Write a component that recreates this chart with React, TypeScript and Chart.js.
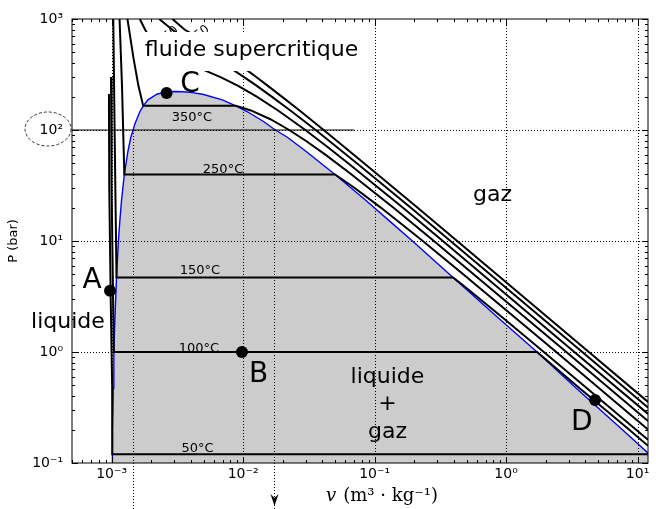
import React, { useEffect, useRef } from "react";
import { Chart, registerables } from "chart.js";

Chart.register(...registerables);

type Pt = [number, number];

// ---- axes ----
const xTickValues = [1e-3, 1e-2, 1e-1, 1, 10];
const xTickLabels = ["10⁻³", "10⁻²", "10⁻¹", "10⁰", "10¹"];
const yTickValues = [0.1, 1, 10, 100, 1000];
const yTickLabels = ["10⁻¹", "10⁰", "10¹", "10²", "10³"];

// ---- saturation dome (v in m3/kg, P in bar) ----
const domeCurve: Pt[] = [
  [1.010e-3, 0.1], [1.012e-3, 0.12], [1.017e-3, 0.2], [1.029e-3, 0.47], [1.04e-3, 1.0],
  [1.06e-3, 2.0], [1.09e-3, 4.7], [1.127e-3, 10], [1.157e-3, 15.5], [1.19e-3, 23.2],
  [1.25e-3, 39.7], [1.33e-3, 64], [1.40e-3, 86], [1.46e-3, 100], [1.50e-3, 113],
  [1.64e-3, 146], [1.74e-3, 165], [1.89e-3, 187], [2.21e-3, 210], [2.45e-3, 217],
  [2.7e-3, 221], [3.05e-3, 222], [3.5e-3, 221], [4.1e-3, 217], [4.93e-3, 210],
  [6.95e-3, 187], [8.81e-3, 165], [1.08e-2, 146], [1.42e-2, 120], [1.76e-2, 100],
  [2.17e-2, 86], [3.02e-2, 64], [5.0e-2, 39.7], [8.6e-2, 23.2], [0.127, 15.5],
  [0.194, 10], [0.395, 4.7], [0.891, 1.985], [1.72, 1.0], [3.4, 0.474],
  [7.67, 0.1995], [12.3, 0.12], [14.67, 0.1],
];

// ---- isotherms ----
const iso50: Pt[] = [
  [0.955e-3, 211], [0.96e-3, 30], [0.985e-3, 3], [1.01e-3, 0.5], [1.012e-3, 0.12], [12.3, 0.12],
];
const iso100: Pt[] = [
  [0.99e-3, 300], [1.0e-3, 30], [1.04e-3, 1.0], [1.72, 1.0], [3.42, 0.5], [8.6, 0.2], [12, 0.143],
];
const iso150: Pt[] = [
  [1.03e-3, 1000], [1.06e-3, 60], [1.09e-3, 4.7], [0.395, 4.7], [0.4708, 4], [0.9596, 2],
  [1.936, 1], [3.889, 0.5], [12, 0.162],
];
const iso250: Pt[] = [
  [1.15e-3, 1000], [1.2e-3, 250], [1.25e-3, 39.7], [0.05, 39.7], [0.07058, 30], [0.1114, 20],
  [0.2327, 10], [0.4744, 5], [2.406, 1], [12, 0.2],
];
const iso350: Pt[] = [
  [1.32e-3, 1000], [1.47e-3, 440], [1.6e-3, 250], [1.74e-3, 165], [8.81e-3, 165],
  [1.147e-2, 150], [1.613e-2, 125], [2.242e-2, 100], [2.995e-2, 80], [4.223e-2, 60],
  [6.645e-2, 40], [0.1386, 20], [0.2825, 10], [2.872, 1], [12, 0.239],
];
const iso450: Pt[] = [
  [1.64e-3, 1000], [1.8e-3, 800], [2.085e-3, 600], [2.486e-3, 500], [3.692e-3, 400],
  [4.957e-3, 350], [6.737e-3, 300], [9.176e-3, 250], [1.27e-2, 200], [1.845e-2, 150],
  [2.975e-2, 100], [4.416e-2, 70], [6.33e-2, 50], [0.1635, 20], [0.3304, 10], [3.304, 1], [12, 0.277],
];
const iso550: Pt[] = [
  [2.3e-3, 1000], [2.9e-3, 800], [3.955e-3, 600], [5.118e-3, 500], [6.985e-3, 400],
  [8.348e-3, 350], [1.0175e-2, 300], [1.2724e-2, 250], [1.65e-2, 200], [2.29e-2, 150],
  [3.564e-2, 100], [7.37e-2, 50], [0.1877, 20], [0.3777, 10], [3.796, 1], [12, 0.316],
];
const iso650: Pt[] = [
  [2.9e-3, 1000], [3.6e-3, 800], [5.591e-3, 600], [6.957e-3, 500], [9.053e-3, 400],
  [1.0565e-2, 350], [1.259e-2, 300], [1.5433e-2, 250], [1.97e-2, 200], [2.69e-2, 150],
  [4.1e-2, 100], [8.36e-2, 50], [0.2115, 20], [0.4245, 10], [4.26, 1], [12, 0.355],
];

// P = 100 bar reference line and saturation volumes at 100 bar
const refLine: Pt[] = [[5e-4, 100], [0.07, 100]];
const refP = 100;
const satV100 = [1.46e-3, 0.0172];

// ---- state points ----
const pointNames = ["A", "B", "C", "D"];
const pointV = [9.73e-4, 9.8e-3, 2.62e-3, 4.75];
const pointP = [3.57, 1.0, 215, 0.37];
const letterV = [7.1e-4, 0.0131, 3.947e-3, 3.758];
const letterP = [3.773, 0.5366, 219.9, 0.1983];

// ---- isotherm labels ----
const tempLabels = ["350°C", "250°C", "150°C", "100°C", "50°C"];
const tempLabelV = [4.088e-3, 7.036e-3, 4.703e-3, 4.62e-3, 4.5e-3];
const tempLabelP = [121.3, 40.73, 5.043, 0.9938, 0.1264];
const topLabels = ["550", "650"];
const topLabelV = [2.685e-3, 4.62e-3];
const topLabelP = [703, 718];

// ---- region labels ----
const regionTexts = ["gaz", "liquide", "liquide", "+", "gaz"];
const regionV = [0.788, 4.66e-4, 0.1253, 0.1253, 0.1253];
const regionP = [22.7, 1.645, 0.5224, 0.2972, 0.169];
const superText = "fluide supercritique";
const superV = 0.01159;
const superP = 464.2;

const SANS = "'DejaVu Sans', sans-serif";

const overlayPlugin = {
  id: "overlay",
  afterDatasetsDraw(chart: any) {
    const { ctx, chartArea: ca } = chart;
    const xs = chart.scales.x;
    const ys = chart.scales.y;
    const X = (v: number) => xs.getPixelForValue(v);
    const Y = (p: number) => ys.getPixelForValue(p);

    ctx.save();
    // ---- clipped drawing: grid + top labels
    ctx.save();
    ctx.beginPath();
    ctx.rect(ca.left, ca.top, ca.right - ca.left, ca.bottom - ca.top);
    ctx.clip();
    ctx.strokeStyle = "#000";
    ctx.lineWidth = 1;
    ctx.setLineDash([1, 2]);
    xTickValues.forEach((v) => {
      const x = Math.round(X(v)) + 0.5;
      if (x > ca.left + 1 && x < ca.right - 1) {
        ctx.beginPath();
        ctx.moveTo(x, ca.top);
        ctx.lineTo(x, ca.bottom);
        ctx.stroke();
      }
    });
    yTickValues.forEach((p) => {
      const y = Math.round(Y(p)) + 0.5;
      if (y > ca.top + 1 && y < ca.bottom - 1) {
        ctx.beginPath();
        ctx.moveTo(ca.left, y);
        ctx.lineTo(ca.right, y);
        ctx.stroke();
      }
    });
    ctx.setLineDash([]);
    ctx.fillStyle = "#000";
    ctx.font = `12px ${SANS}`;
    ctx.textAlign = "center";
    ctx.textBaseline = "middle";
    topLabels.forEach((t, i) => {
      ctx.save();
      ctx.translate(X(topLabelV[i]), Y(topLabelP[i]));
      ctx.rotate((-40 * Math.PI) / 180);
      ctx.fillText(t, 0, 0);
      ctx.restore();
    });
    ctx.restore();

    // ---- supercritical text with white box
    ctx.font = `22px ${SANS}`;
    ctx.textAlign = "center";
    ctx.textBaseline = "alphabetic";
    const sx = X(superV);
    const sy = Y(superP);
    const sw = ctx.measureText(superText).width;
    ctx.fillStyle = "#fff";
    ctx.fillRect(sx - sw / 2 - 5, sy - 24, sw + 10, 39);
    ctx.fillStyle = "#000";
    ctx.fillText(superText, sx, sy);

    // ---- region labels
    regionTexts.forEach((t, i) => ctx.fillText(t, X(regionV[i]), Y(regionP[i])));

    // ---- point letters
    ctx.font = `28px ${SANS}`;
    pointNames.forEach((t, i) => ctx.fillText(t, X(letterV[i]), Y(letterP[i])));

    // ---- isotherm labels
    ctx.font = `13px ${SANS}`;
    tempLabels.forEach((t, i) => ctx.fillText(t, X(tempLabelV[i]), Y(tempLabelP[i])));

    // ---- dotted verticals at 100 bar down past the axis + arrow
    ctx.strokeStyle = "#000";
    ctx.lineWidth = 1;
    ctx.setLineDash([1, 2]);
    const y100 = Y(refP);
    const H = chart.height;
    satV100.forEach((v) => {
      const x = Math.round(X(v)) + 0.5;
      ctx.beginPath();
      ctx.moveTo(x, y100);
      ctx.lineTo(x, H);
      ctx.stroke();
    });
    ctx.setLineDash([]);
    const ax = Math.round(X(satV100[1])) + 0.5;
    ctx.fillStyle = "#000";
    ctx.beginPath();
    ctx.moveTo(ax, H - 3);
    ctx.lineTo(ax - 4, H - 15);
    ctx.lineTo(ax, H - 11);
    ctx.lineTo(ax + 4, H - 15);
    ctx.closePath();
    ctx.fill();

    // ---- frame and ticks (inward on all sides)
    ctx.strokeStyle = "#000";
    ctx.lineWidth = 1;
    ctx.strokeRect(ca.left, ca.top, ca.right - ca.left, ca.bottom - ca.top);
    const tickSet = (lo: number, hi: number) => {
      const out: { v: number; major: boolean }[] = [];
      for (let d = Math.floor(Math.log10(lo)); d <= Math.ceil(Math.log10(hi)); d++) {
        for (let k = 1; k <= 9; k++) {
          const v = k * Math.pow(10, d);
          if (v >= lo * 0.9999 && v <= hi * 1.0001) out.push({ v, major: k === 1 });
        }
      }
      return out;
    };
    ctx.beginPath();
    tickSet(xs.min, xs.max).forEach(({ v, major }) => {
      const x = Math.round(X(v)) + 0.5;
      const len = major ? 6 : 3;
      ctx.moveTo(x, ca.bottom);
      ctx.lineTo(x, ca.bottom - len);
      ctx.moveTo(x, ca.top);
      ctx.lineTo(x, ca.top + len);
    });
    tickSet(ys.min, ys.max).forEach(({ v, major }) => {
      const y = Math.round(Y(v)) + 0.5;
      const len = major ? 6 : 3;
      ctx.moveTo(ca.left, y);
      ctx.lineTo(ca.left + len, y);
      ctx.moveTo(ca.right, y);
      ctx.lineTo(ca.right - len, y);
    });
    ctx.stroke();

    // ---- dashed ellipse around the 10² label
    ctx.setLineDash([3, 2]);
    ctx.lineWidth = 0.8;
    ctx.beginPath();
    ctx.ellipse(48, Y(refP) - 1, 23, 17, 0, 0, Math.PI * 2);
    ctx.stroke();
    ctx.setLineDash([]);

    // ---- x axis title
    ctx.fillStyle = "#000";
    ctx.textAlign = "left";
    ctx.textBaseline = "alphabetic";
    const fs = 18;
    ctx.font = `italic ${fs}px 'DejaVu Serif', serif`;
    const vPart = "v";
    const wv = ctx.measureText(vPart).width;
    ctx.font = `${fs}px 'DejaVu Serif', serif`;
    const rest = "(m³ · kg⁻¹)";
    const wr = ctx.measureText(rest).width;
    const gap = 7;
    const total = wv + gap + wr;
    const cx = 382;
    const bx = cx - total / 2;
    ctx.font = `italic ${fs}px 'DejaVu Serif', serif`;
    ctx.fillText(vPart, bx, 501);
    ctx.font = `${fs}px 'DejaVu Serif', serif`;
    ctx.fillText(rest, bx + wv + gap, 501);

    ctx.restore();
  },
};

export default function App() {
  const ref = useRef<HTMLCanvasElement>(null);
  useEffect(() => {
    const canvas = ref.current;
    if (!canvas) return;
    const toXY = (pts: Pt[]) => pts.map(([x, y]) => ({ x, y }));
    const iso = (label: string, pts: Pt[]) => ({
      label,
      data: toXY(pts),
      borderColor: "#000",
      borderWidth: 2,
      pointRadius: 0,
      fill: false,
      tension: 0,
      order: 1,
    });
    const chart = new Chart(canvas, {
      type: "line",
      data: {
        datasets: [
          {
            label: "points",
            data: pointV.map((v, i) => ({ x: v, y: pointP[i] })),
            showLine: false,
            pointRadius: 6,
            pointBackgroundColor: "#000",
            pointBorderColor: "#000",
            pointBorderWidth: 0,
            order: 0,
          } as any,
          iso("50°C", iso50),
          iso("100°C", iso100),
          iso("150°C", iso150),
          iso("250°C", iso250),
          iso("350°C", iso350),
          iso("450°C", iso450),
          iso("550°C", iso550),
          iso("650°C", iso650),
          {
            label: "P = 100 bar",
            data: toXY(refLine),
            borderColor: "#000",
            borderWidth: 1,
            pointRadius: 0,
            fill: false,
            order: 1,
          },
          {
            label: "saturation",
            data: toXY(domeCurve),
            borderColor: "#0000ff",
            borderWidth: 1.4,
            backgroundColor: "#cccccc",
            fill: "start",
            pointRadius: 0,
            tension: 0,
            order: 2,
          },
        ],
      },
      options: {
        responsive: false,
        animation: false,
        events: [],
        layout: { padding: { left: 0, top: 19, right: 13, bottom: 0 } },
        plugins: { legend: { display: false }, tooltip: { enabled: false } },
        scales: {
          x: {
            type: "logarithmic",
            min: 5e-4,
            max: 12,
            afterFit: (s: any) => {
              s.height = 46;
            },
            afterBuildTicks: (s: any) => {
              s.ticks = xTickValues.map((v) => ({ value: v }));
            },
            grid: { display: false, drawTicks: false },
            border: { display: false },
            ticks: {
              autoSkip: false,
              maxRotation: 0,
              padding: 3,
              color: "#000",
              font: { family: "DejaVu Sans", size: 14 },
              callback: (_v: any, i: number) => xTickLabels[i],
            },
          },
          y: {
            type: "logarithmic",
            min: 0.1,
            max: 1000,
            afterFit: (s: any) => {
              s.width = 72;
            },
            afterBuildTicks: (s: any) => {
              s.ticks = yTickValues.map((v) => ({ value: v }));
            },
            grid: { display: false, drawTicks: false },
            border: { display: false },
            title: {
              display: true,
              text: "P (bar)",
              color: "#000",
              font: { family: "DejaVu Sans", size: 13 },
              padding: { top: 6, bottom: 0 },
            },
            ticks: {
              autoSkip: false,
              padding: 9,
              color: "#000",
              font: { family: "DejaVu Sans", size: 14 },
              callback: (_v: any, i: number) => yTickLabels[i],
            },
          },
        },
      } as any,
      plugins: [overlayPlugin],
    });
    return () => chart.destroy();
  }, []);
  return (
    <div style={{ position: "fixed", left: 0, top: 0, width: 661, height: 509, background: "#fff" }}>
      <canvas ref={ref} width={661} height={509} style={{ display: "block" }} />
    </div>
  );
}
